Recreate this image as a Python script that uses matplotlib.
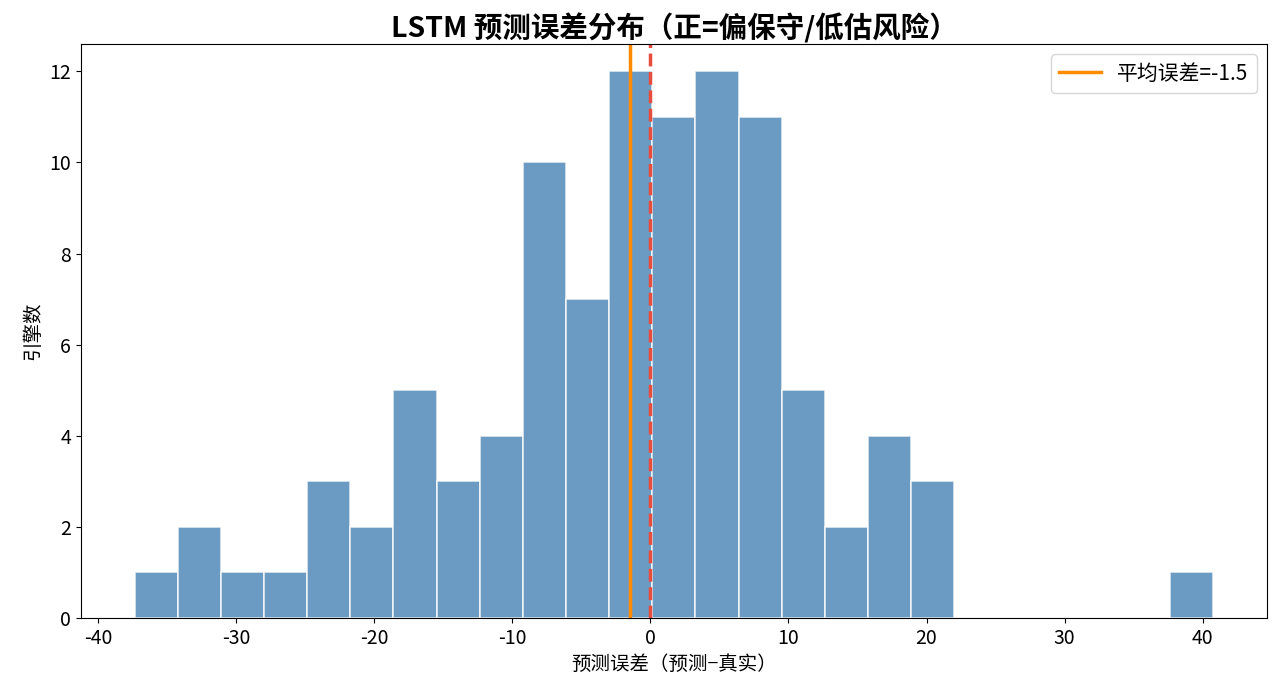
import numpy as np
import matplotlib
matplotlib.use("Agg")
import matplotlib.pyplot as plt

plt.rcParams['font.family'] = ['Noto Sans CJK SC', 'DejaVu Sans']
plt.rcParams['axes.unicode_minus'] = False

# histogram: 25 bins between min and max error
err_min = -37.35
err_max = 40.76
n_bins = 25
counts = [1, 2, 1, 1, 3, 2, 5, 3, 4, 10, 7, 12, 11, 12, 11, 5, 2, 4, 3, 0, 0, 0, 0, 0, 1]
mean_err = -1.5

edges = np.linspace(err_min, err_max, n_bins + 1)

fig, ax = plt.subplots(figsize=(12.8, 6.88), dpi=100)
fig.subplots_adjust(left=0.063, right=0.99, top=0.936, bottom=0.102)

ax.hist(edges[:-1], bins=edges, weights=counts, color='steelblue',
        alpha=0.8, edgecolor='white', linewidth=1.2)
ax.axvline(0, color='#e74c3c', linestyle='--', linewidth=2.5)
ax.axvline(mean_err, color='darkorange', linewidth=2.5,
           label=f'平均误差={mean_err}')

ax.set_title('LSTM 预测误差分布（正=偏保守/低估风险）', fontsize=20.5,
             fontweight='bold', pad=5)
ax.set_xlabel('预测误差（预测−真实）', fontsize=14)
ax.set_ylabel('引擎数', fontsize=14)
ax.tick_params(labelsize=14)
ax.legend(loc='upper right', fontsize=15)

plt.savefig('out.png', dpi=100)
